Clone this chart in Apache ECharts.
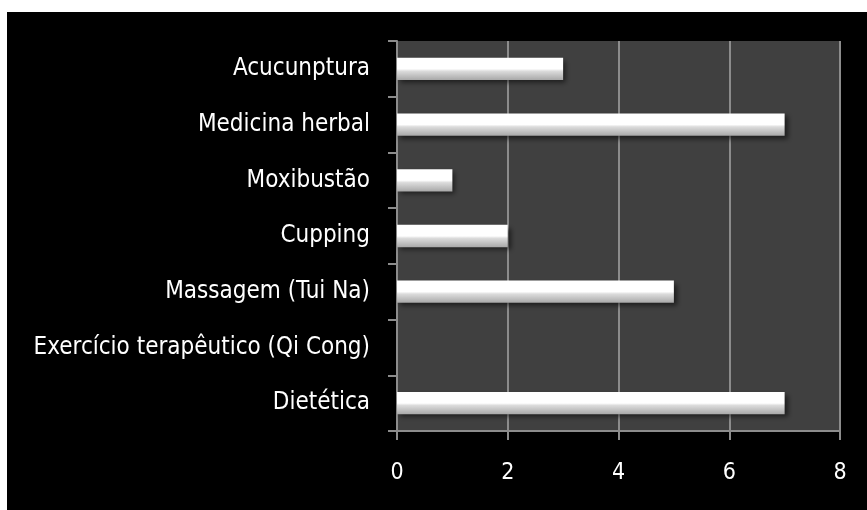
<!DOCTYPE html>
<html>
<head>
<meta charset="utf-8">
<script src="https://cdn.jsdelivr.net/npm/echarts@6/dist/echarts.min.js"></script>
<style>
    html, body { margin: 0; padding: 0; background: #ffffff; }
    #main { position: absolute; left: 7px; top: 12px; width: 860px; height: 498px; background: #000000; }
</style>
</head>
<body>
<div id="main"></div>
<script>
// categories from top to bottom
let categories = ['Acucunptura', 'Medicina herbal', 'Moxibustão', 'Cupping',
    'Massagem (Tui Na)', 'Exercício terapêutico (Qi Cong)', 'Dietética'];
let values = [3, 7, 1, 2, 5, 0, 7];
let xTicks = [0, 2, 4, 6, 8];

let labelFont = "'DejaVu Sans Condensed', 'Liberation Sans', sans-serif";

let myChart = echarts.init(document.getElementById('main'));
let option = {
    backgroundColor: '#000000',
    animation: false,
    grid: {
        left: 390,
        right: 27,
        top: 29,
        bottom: 79,
        show: true,
        backgroundColor: '#404040',
        borderWidth: 0
    },
    xAxis: {
        type: 'value',
        min: xTicks[0],
        max: xTicks[xTicks.length - 1],
        interval: 2,
        axisLine: { show: true, lineStyle: { color: '#8c8c8c', width: 2 } },
        axisTick: { show: true, length: 9, lineStyle: { color: '#8c8c8c', width: 2 } },
        splitLine: { show: true, lineStyle: { color: '#8c8c8c', width: 2 } },
        axisLabel: { color: '#ffffff', fontSize: 23, fontFamily: labelFont, margin: 31 }
    },
    yAxis: {
        type: 'category',
        inverse: true,
        data: categories,
        axisLine: { show: true, lineStyle: { color: '#8c8c8c', width: 2 } },
        axisTick: { show: true, length: 9, alignWithLabel: false, lineStyle: { color: '#8c8c8c', width: 2 } },
        splitLine: { show: false },
        axisLabel: { color: '#ffffff', fontSize: 24, fontFamily: labelFont, margin: 27 }
    },
    series: [{
        type: 'bar',
        data: values,
        barWidth: '40%',
        itemStyle: {
            color: new echarts.graphic.LinearGradient(0, 0, 0, 1, [
                { offset: 0, color: '#ffffff' },
                { offset: 0.5, color: '#ffffff' },
                { offset: 0.6, color: '#dcdcdc' },
                { offset: 1, color: '#a8a8a8' }
            ]),
            shadowColor: 'rgba(0,0,0,0.55)',
            shadowBlur: 5,
            shadowOffsetX: 3,
            shadowOffsetY: 3
        }
    }]
};
myChart.setOption(option);
</script>
</body>
</html>
